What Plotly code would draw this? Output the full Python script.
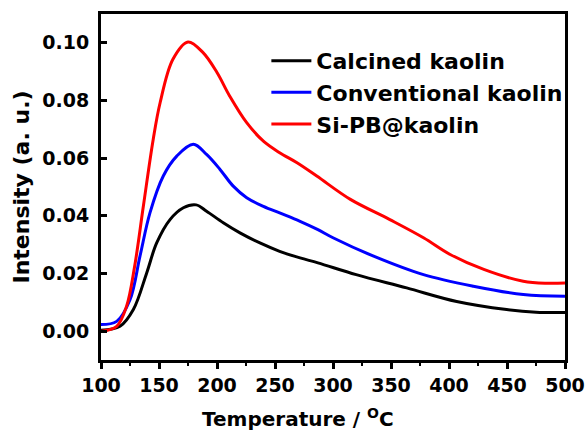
import plotly.graph_objects as go

# Data
red_x = [100, 113.5, 122, 129, 136.5, 145, 151, 162, 175, 188, 200, 211, 225.6, 240, 254, 269, 286, 315, 349, 378, 401, 430, 464, 485, 500]
red_y = [0.0000, 0.0017, 0.0086, 0.0225, 0.0433, 0.0665, 0.0793, 0.0943, 0.1003, 0.0966, 0.0897, 0.0815, 0.0723, 0.0659, 0.0619, 0.0584, 0.0538, 0.0457, 0.0387, 0.0324, 0.0266, 0.0214, 0.0173, 0.0166, 0.0167]

blue_x = [100, 113.5, 125, 133.6, 142.2, 153.7, 165.3, 179.6, 191, 202.6, 214, 225.6, 240, 254, 271.6, 287, 300, 335, 378, 421, 464, 500]
blue_y = [0.0023, 0.0034, 0.0109, 0.0260, 0.0410, 0.0538, 0.0607, 0.0648, 0.0613, 0.0561, 0.0503, 0.0463, 0.0433, 0.0410, 0.0381, 0.0352, 0.0324, 0.0260, 0.0196, 0.0156, 0.0127, 0.0121]

black_x = [100, 116.4, 127.9, 139.4, 148, 159.5, 171, 182, 191, 205.4, 219.8, 237, 254, 271.6, 287, 320, 363.5, 406.6, 449.7, 475, 500]
black_y = [0.0003, 0.0017, 0.0075, 0.0202, 0.0306, 0.0387, 0.0428, 0.0438, 0.0416, 0.0376, 0.0341, 0.0306, 0.0277, 0.0254, 0.0237, 0.0196, 0.0150, 0.0103, 0.0075, 0.0066, 0.0065]

series = [
    ("Calcined kaolin", black_x, black_y, "#000000"),
    ("Conventional kaolin", blue_x, blue_y, "#0000ff"),
    ("Si-PB@kaolin", red_x, red_y, "#ff0000"),
]

FONT = "DejaVu Sans"

fig = go.Figure()
for name, xs, ys, col in series:
    fig.add_trace(go.Scatter(
        x=xs, y=ys, name=name, mode="lines",
        line=dict(color=col, width=3, shape="spline", smoothing=1.0),
    ))

fig.update_layout(
    width=585, height=432,
    margin=dict(l=101, r=20, t=14, b=72, autoexpand=False),
    paper_bgcolor="white", plot_bgcolor="white",
    font=dict(family=FONT, color="black", size=19, weight="bold"),
    showlegend=True,
    legend=dict(
        x=0.3564, y=0.925, xanchor="left", yanchor="top",
        bgcolor="rgba(0,0,0,0)", borderwidth=0,
        font=dict(family=FONT, size=22, color="black", weight="bold"),
        traceorder="normal", itemwidth=40,
    ),
    xaxis=dict(
        range=[100, 500], tick0=100, dtick=50, automargin=False,
        showgrid=False, zeroline=False,
        showline=True, linecolor="black", linewidth=3, mirror=True,
        ticks="outside", ticklen=6, tickwidth=2.5, tickcolor="black",
        minor=dict(ticks="outside", ticklen=3, tickwidth=2, tickcolor="black", dtick=25),
        tickfont=dict(family=FONT, size=19, color="black", weight="bold"),
    ),
    yaxis=dict(
        range=[-0.01, 0.11], tick0=0, dtick=0.02, tickformat=".2f", automargin=False,
        showgrid=False, zeroline=False,
        showline=True, linecolor="black", linewidth=3, mirror=True,
        ticks="inside", ticklen=6, tickwidth=2.5, tickcolor="black",
        ticklabelstandoff=5,
        tickfont=dict(family=FONT, size=19, color="black", weight="bold"),
        title=dict(text="Intensity (a. u.)", standoff=7,
                   font=dict(family=FONT, size=22, color="black", weight="bold")),
    ),
    annotations=[dict(
        text="Temperature / <sup>O</sup>C", xref="paper", yref="paper",
        x=0.4246, y=-0.169, xanchor="center", yanchor="middle", showarrow=False,
        font=dict(family=FONT, size=20, color="black", weight="bold"),
    )],
)

fig.write_html("out.html")
